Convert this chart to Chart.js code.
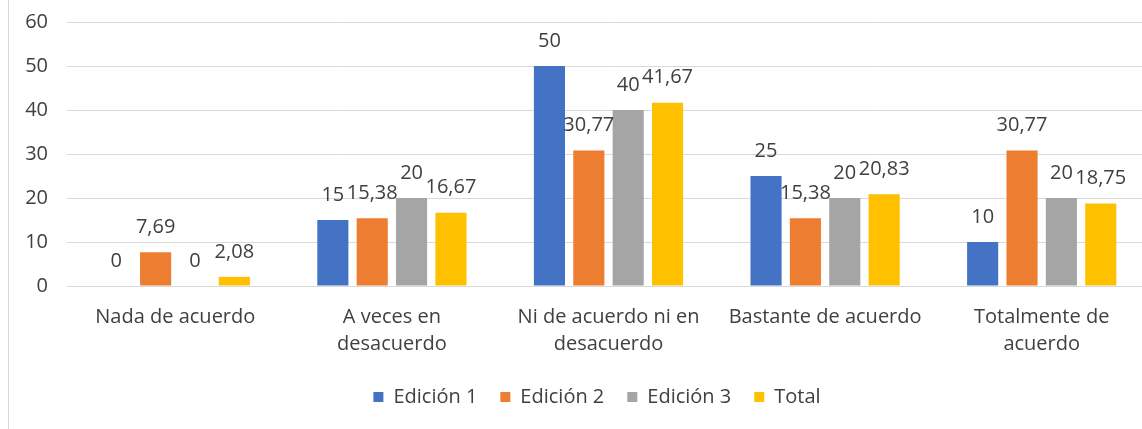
<!DOCTYPE html>
<html>
<head>
<meta charset="utf-8">
<script src="https://cdn.jsdelivr.net/npm/chart.js@4/dist/chart.umd.min.js"></script>
<style>
  html, body { margin: 0; padding: 0; background: #fff; overflow: hidden; }
  #wrap { position: relative; width: 1142px; height: 429px; overflow: hidden; }
  #edge { position: absolute; left: 8px; top: 0; width: 1px; height: 429px; background: #d9d9d9; }
  canvas { position: absolute; left: 0; top: 0; }
</style>
</head>
<body>
<div id="wrap">
  <div id="edge"></div>
  <canvas id="chart" width="1150" height="429"></canvas>
</div>
<script>
// ── Data ───────────────────────────────────────────────────────────────
const categories = [
  'Nada de acuerdo',
  ['A veces en', 'desacuerdo'],
  ['Ni de acuerdo ni en', 'desacuerdo'],
  'Bastante de acuerdo',
  ['Totalmente de', 'acuerdo']
];
const edicion1 = [0, 15, 50, 25, 10];
const edicion2 = [7.69, 15.38, 30.77, 15.38, 30.77];
const edicion3 = [0, 20, 40, 20, 20];
const total    = [2.08, 16.67, 41.67, 20.83, 18.75];

const seriesNames  = ['Edición 1', 'Edición 2', 'Edición 3', 'Total'];
const seriesColors = ['#4472C4', '#ED7D31', '#A5A5A5', '#FFC000'];
const FONT = '"Open Sans", "Noto Sans", sans-serif';
const TEXT = '#404040';

// ── Data labels (Excel-style, above each bar) ──────────────────────────
const fmt = v => String(v).replace('.', ',');
const barLabels = {
  id: 'barLabels',
  afterLayout(chart) {
    // nudge the legend a bit right, like the original
    chart.legend.left += 22;
    chart.legend.right += 22;
  },
  afterDatasetsDraw(chart) {
    const ctx = chart.ctx;
    ctx.save();
    ctx.font = '20px ' + FONT;
    ctx.fillStyle = TEXT;
    ctx.textAlign = 'center';
    ctx.textBaseline = 'middle';
    chart.data.datasets.forEach((ds, i) => {
      chart.getDatasetMeta(i).data.forEach((bar, j) => {
        ctx.fillText(fmt(ds.data[j]), bar.x, bar.y - 25);
      });
    });
    ctx.restore();
  }
};

// ── Chart ──────────────────────────────────────────────────────────────
const sets = [edicion1, edicion2, edicion3, total];
new Chart(document.getElementById('chart').getContext('2d'), {
  type: 'bar',
  data: {
    labels: categories,
    datasets: sets.map((d, i) => ({
      label: seriesNames[i],
      data: d,
      backgroundColor: seriesColors[i],
      categoryPercentage: 0.727,
      barPercentage: 0.79
    }))
  },
  options: {
    responsive: false,
    animation: false,
    layout: { padding: { left: 0, right: 0, top: 22, bottom: 12 } },
    plugins: {
      legend: {
        position: 'bottom',
        labels: {
          boxWidth: 10, boxHeight: 10, padding: 23,
          color: TEXT, font: { family: FONT, size: 20 }
        }
      },
      tooltip: { enabled: false }
    },
    scales: {
      x: {
        grid: { display: false },
        border: { display: false },
        ticks: {
          color: TEXT, font: { family: FONT, size: 20, lineHeight: 1.35 },
          maxRotation: 0, autoSkip: false, padding: 10
        },
        afterFit(s) { s.height = 78; }
      },
      y: {
        min: 0, max: 60,
        ticks: { stepSize: 10, color: TEXT, font: { family: FONT, size: 20 }, padding: 19 },
        grid: { color: '#d9d9d9', drawTicks: false },
        border: { display: false },
        afterFit(s) { s.width = 67; s.paddingTop = 0; s.paddingBottom = 0; }
      }
    }
  },
  plugins: [barLabels]
});
</script>
</body>
</html>
